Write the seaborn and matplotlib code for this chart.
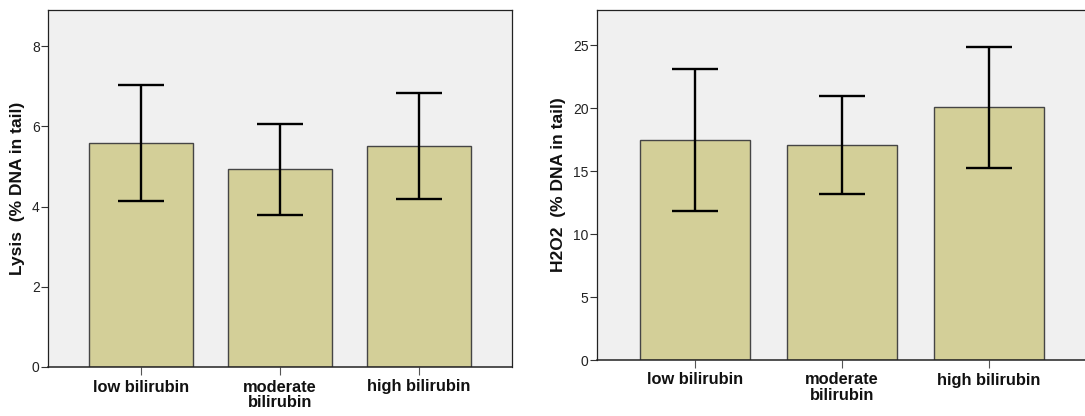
import matplotlib
matplotlib.use("Agg")
import matplotlib.pyplot as plt
import seaborn as sns
import pandas as pd

categories = ["low bilirubin", "moderate\nbilirubin", "high bilirubin"]
lysis_mean = [5.59, 4.93, 5.52]
lysis_low = [4.14, 3.79, 4.19]
lysis_high = [7.03, 6.06, 6.83]
h2o2_mean = [17.49, 17.07, 20.06]
h2o2_low = [11.85, 13.17, 15.27]
h2o2_high = [23.14, 20.97, 24.89]

sns.set_style("white")
plt.rcParams["font.family"] = ["Liberation Sans", "DejaVu Sans"]

BAR = "#d3cf98"
BG = "#f0f0f0"

fig = plt.figure(figsize=(10.85, 4.16), dpi=100)
ax1 = fig.add_axes([48/1085, 1-367/416, (512-48)/1085, (367-10)/416])
ax2 = fig.add_axes([597/1085, 1-360/416, (1087-597)/1085, (360-10)/416])

def panel(ax, mean, lo, hi, ylim, yticks, ylabel):
    df = pd.DataFrame({"cat": categories, "val": mean})
    sns.barplot(data=df, x="cat", y="val", ax=ax, color=BAR, width=0.75,
                edgecolor="#454545", linewidth=1.0, errorbar=None, saturation=1)
    ax.set_facecolor(BG)
    xs = list(range(len(categories)))
    yerr = [[m - l for m, l in zip(mean, lo)], [h - m for m, h in zip(mean, hi)]]
    ax.errorbar(xs, mean, yerr=yerr, fmt="none", ecolor="black", elinewidth=1.7,
                capsize=16.5, capthick=1.7, zorder=5)
    ax.set_xlim(-0.667, 2.667)
    ax.set_ylim(*ylim)
    ax.set_yticks(yticks)
    ax.set_yticklabels([str(t) for t in yticks], fontsize=10, color="#222222")
    ax.set_xticks(xs)
    ax.set_xticklabels(categories, fontsize=11.8, fontweight="bold", linespacing=1.05,
                       color="#111111")
    ax.set_xlabel("")
    ax.set_ylabel(ylabel, fontsize=12.5, fontweight="bold", labelpad=5, color="#111111")
    ax.tick_params(axis="y", direction="out", length=5, width=0.8, color="#333333", pad=1, left=True)
    ax.tick_params(axis="x", direction="out", length=6, width=0.8, color="#555555", pad=3, bottom=True)
    for s in ax.spines.values():
        s.set_visible(True)
        s.set_color("#222222")
        s.set_linewidth(0.9)
    ax.spines["bottom"].set_linewidth(1.1)

panel(ax1, lysis_mean, lysis_low, lysis_high, (0, 8.9), [0, 2, 4, 6, 8], "Lysis  (% DNA in tail)")
panel(ax2, h2o2_mean, h2o2_low, h2o2_high, (0, 27.8), [0, 5, 10, 15, 20, 25], "H2O2  (% DNA in tail)")

fig.savefig("out.png", dpi=100)
